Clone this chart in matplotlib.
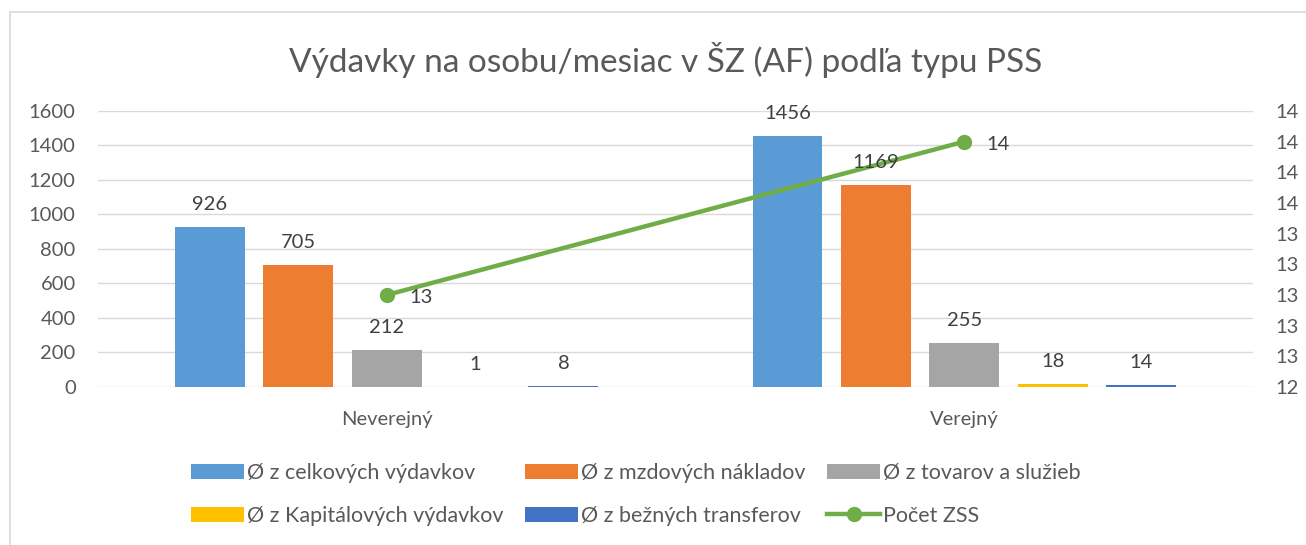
import numpy as np
import matplotlib.pyplot as plt
from matplotlib.patches import Rectangle

plt.rcParams['font.family'] = ['Lato', 'DejaVu Sans']

# data
categories = ["Neverejný", "Verejný"]
series_names = ["Ø z celkových výdavkov", "Ø z mzdových nákladov", "Ø z tovarov a služieb",
                "Ø z Kapitálových výdavkov", "Ø z bežných transferov"]
celkove = [926, 1456]
mzdove = [705, 1169]
tovary = [212, 255]
kapitalove = [1, 18]
transfery = [8, 14]
pocet_zss = [13, 14]

colors = ["#5B9BD5", "#ED7D31", "#A5A5A5", "#FFC000", "#4472C4"]
green = "#70AD47"
text_col = "#595959"
fs = 14.5

fig = plt.figure(figsize=(13.06, 5.45), dpi=100)
# chart frame (only top and left edges are inside the picture)
fig.patches.append(Rectangle((9.5 / 1306, -0.2), 1.2, 1.2 - 12 / 545, transform=fig.transFigure,
                             fill=False, edgecolor="#D9D9D9", linewidth=1.2))
ax = fig.add_axes([0.075, 0.29, 0.8844, 0.5064])
ax2 = ax.twinx()

x = np.arange(len(categories))
pitch = 0.153
width = 0.121
handles = []
for i, (vals, name) in enumerate(zip([celkove, mzdove, tovary, kapitalove, transfery], series_names)):
    pos = x + (i - 2) * pitch
    b = ax.bar(pos, vals, width, color=colors[i], label=name, zorder=2)
    handles.append(b)
    # labels go on ax2 so they sit above the line
    for p, v in zip(pos, vals):
        ax2.annotate(str(v), (p, v), xycoords=ax.transData, xytext=(0, 10),
                     textcoords="offset points", ha="center", va="bottom",
                     fontsize=fs, color="#404040", zorder=5)

ax.set_xlim(-0.5, 1.5)
ax.set_ylim(0, 1600)
ax.set_yticks(np.arange(0, 1601, 200))
ax.grid(axis="y", color="#D9D9D9", linewidth=1, zorder=0)
ax.set_axisbelow(True)
for s in ax.spines.values():
    s.set_visible(False)
ax.set_xticks(x)
ax.set_xticklabels(categories)
ax.tick_params(axis="both", length=0, labelsize=fs, labelcolor=text_col)
ax.tick_params(axis="x", pad=17)
ax.tick_params(axis="y", pad=16)

ax2.set_ylim(12.4, 14.2)
rticks = np.arange(12.4, 14.21, 0.2)
ax2.set_yticks(rticks)
ax2.set_yticklabels([f"{t:.0f}" for t in rticks])
ax2.tick_params(axis="y", length=0, labelsize=fs, labelcolor=text_col, pad=16)
for s in ax2.spines.values():
    s.set_visible(False)
line, = ax2.plot(x, pocet_zss, color=green, linewidth=3.2, marker="o", markersize=10,
                 label="Počet ZSS", zorder=3)
for xi, v in zip(x, pocet_zss):
    ax2.annotate(str(v), (xi, v), xytext=(16, -2), textcoords="offset points",
                 ha="left", va="center", fontsize=fs, color="#404040", zorder=5)

fig.suptitle("Výdavky na osobu/mesiac v ŠZ (AF) podľa typu PSS", x=0.51, y=0.89, va="center",
             fontsize=24, color=text_col)

# legend filled column-wise, so reorder to get Excel's row order
order = [handles[0], handles[3], handles[1], handles[4], handles[2], line]
labels = [h.get_label() for h in order]
fig.legend(order, labels, loc="center", bbox_to_anchor=(0.487, 0.093), ncol=3,
           frameon=False, fontsize=15.5, labelcolor=text_col, handlelength=2.45,
           handleheight=0.7, handletextpad=0.15, columnspacing=1.0, labelspacing=1.05)

fig.savefig("out.png", dpi=100)
